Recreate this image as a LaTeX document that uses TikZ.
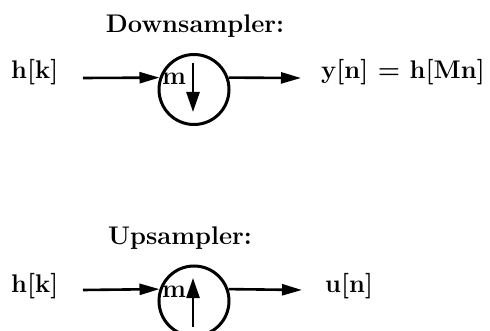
\documentclass[tikz,border=0pt]{standalone}
\usepackage{fontspec}
\usetikzlibrary{arrows.meta}

\tikzset{
  lbl/.style={font=\fontsize{25.5}{30}\selectfont\bfseries\addfontfeature{FakeBold=0.8}, inner sep=0pt},
  sampler/.style={circle, draw, line width=3pt, minimum size=70pt, inner sep=0pt},
  sig/.style={line width=2.6pt, -{Triangle[length=20pt, width=11pt]}},
  rate/.style={line width=2.6pt, -{Triangle[length=20pt, width=13pt]}}
}

\begin{document}
\begin{tikzpicture}[x=1pt, y=-1pt]
  \useasboundingbox (0,0) rectangle (490,331);

  % ---- downsampler ----
  \node[lbl, anchor=base] (t1) at (195,33) {Downsampler:};
  \node[lbl, anchor=base west] (in1) at (11,79) {h[k]};
  \node[sampler] (c1) at (194,89.5) {};
  \node[lbl, anchor=base west] (m1) at (162,85) {m};
  \node[lbl, anchor=base west] (out1) at (321,79) {y[n] = h[Mn]};
  \coordinate (s1) at (83,78);
  \coordinate (e1) at (301,78);
  \coordinate (d1a) at (193,63);
  \coordinate (d1b) at (193,112);
  \draw[sig] (s1) -- (c1.161);
  \draw[sig] (c1.19) -- (e1);
  \draw[rate] (d1a) -- (d1b);

  % ---- upsampler ----
  \node[lbl, anchor=base] (t2) at (180,244) {Upsampler:};
  \node[lbl, anchor=base west] (in2) at (11,292) {h[k]};
  \node[sampler] (c2) at (194,301) {};
  \node[lbl, anchor=base west] (m2) at (162,297) {m};
  \node[lbl, anchor=base west] (out2) at (325,292) {u[n]};
  \coordinate (s2) at (83,290);
  \coordinate (e2) at (302,290);
  \coordinate (u2a) at (193,327);
  \coordinate (u2b) at (193,278);
  \draw[sig] (s2) -- (c2.161);
  \draw[sig] (c2.19) -- (e2);
  \draw[rate] (u2a) -- (u2b);
\end{tikzpicture}
\end{document}
